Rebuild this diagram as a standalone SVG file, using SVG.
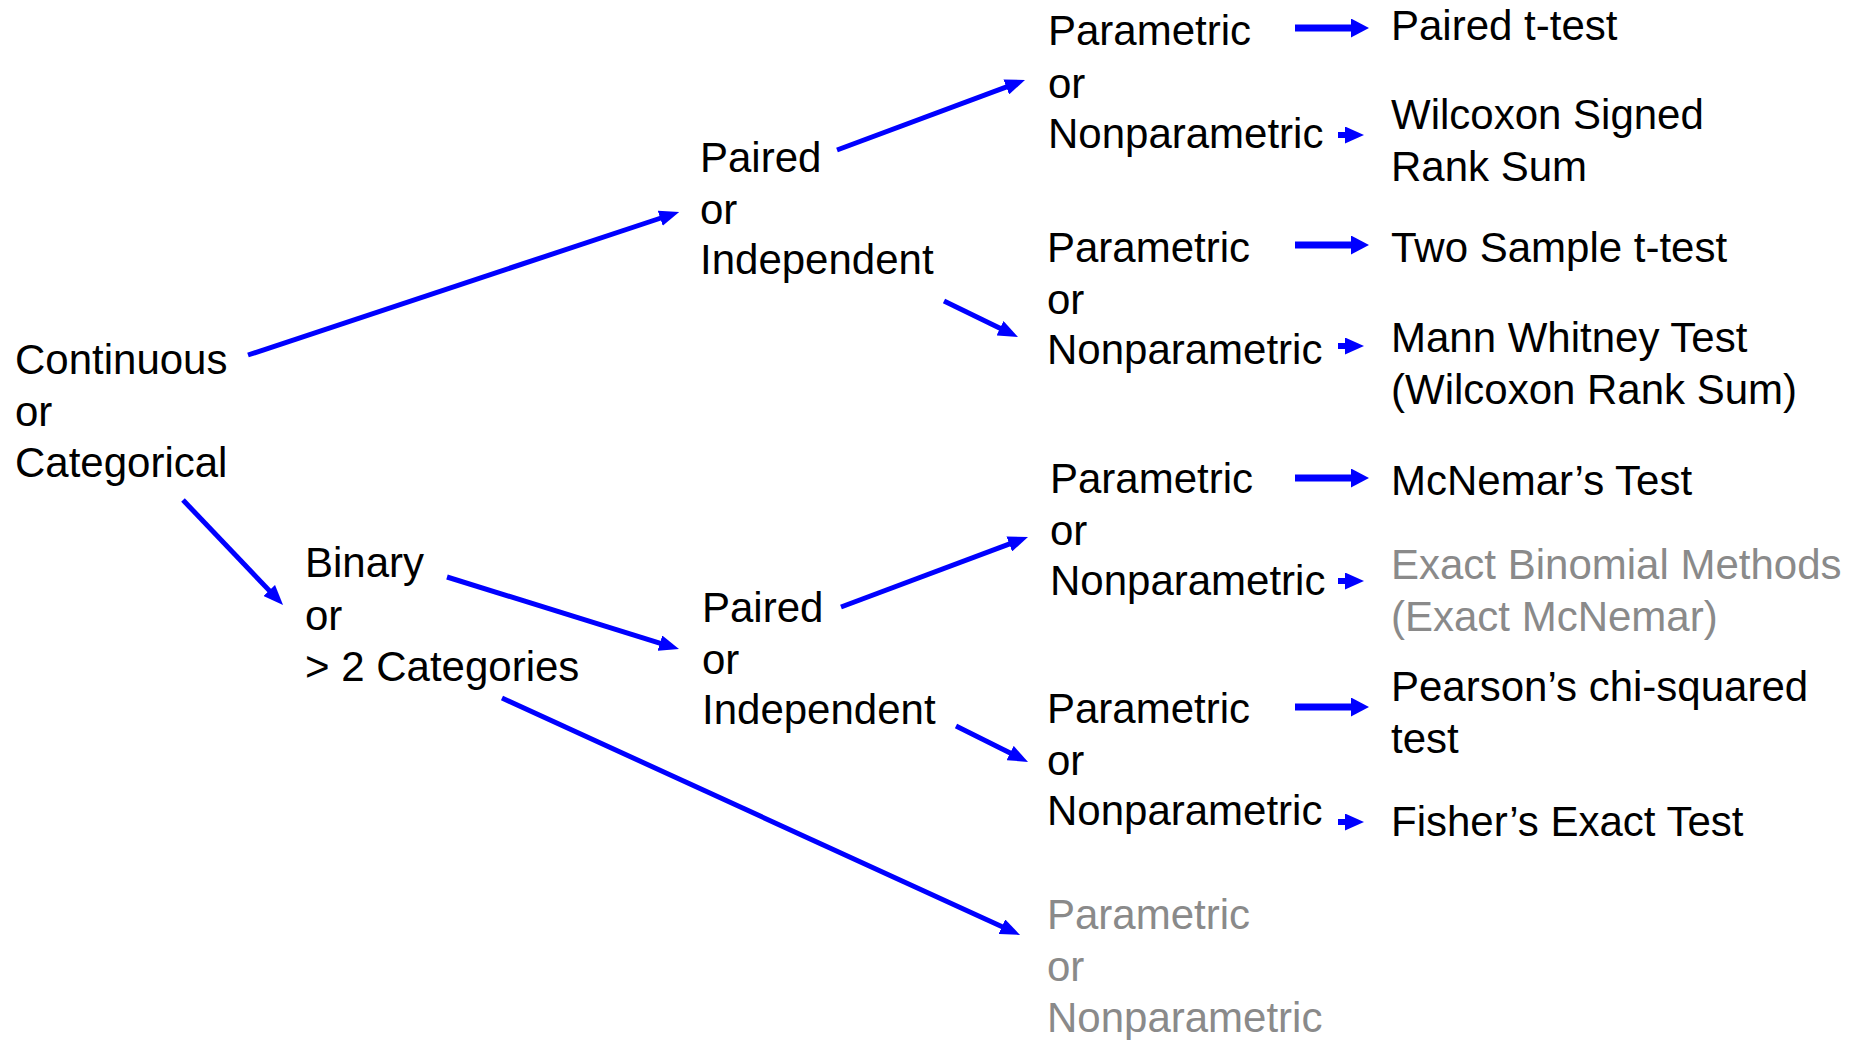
<svg xmlns="http://www.w3.org/2000/svg" width="1867" height="1040" viewBox="0 0 1867 1040">
<style>
text{font-family:"Liberation Sans",Arial,sans-serif;font-size:42px;fill:#000}
.g text,text.g{fill:#8a8a8a}
.c{stroke:#0000ff;stroke-width:5;fill:none}
.p{stroke:#0000ff;stroke-width:7;fill:none}
.s{stroke:#0000ff;stroke-width:6;fill:none}
</style>
<defs>
<marker id="a" markerUnits="userSpaceOnUse" markerWidth="20" markerHeight="16" refX="4" refY="8" orient="auto"><path d="M0,0 L20,8 L0,16 z" fill="#0000ff"/></marker>
<marker id="ap" markerUnits="userSpaceOnUse" markerWidth="18" markerHeight="19" refX="4" refY="9.5" orient="auto"><path d="M0,0 L18,9.5 L0,19 z" fill="#0000ff"/></marker>
<marker id="as" markerUnits="userSpaceOnUse" markerWidth="19" markerHeight="17" refX="4" refY="8.5" orient="auto"><path d="M0,0 L19,8.5 L0,17 z" fill="#0000ff"/></marker>
</defs>
<g id="connectors">
<line class="c" x1="248" y1="355" x2="664" y2="217" marker-end="url(#a)"/>
<line class="c" x1="837" y1="150" x2="1010" y2="85.6" marker-end="url(#a)"/>
<line class="c" x1="944" y1="301" x2="1003.6" y2="330" marker-end="url(#a)"/>
<line class="c" x1="183" y1="500" x2="272" y2="593.4" marker-end="url(#a)"/>
<line class="c" x1="447" y1="577" x2="663.7" y2="644.3" marker-end="url(#a)"/>
<line class="c" x1="841" y1="607" x2="1013" y2="542.6" marker-end="url(#a)"/>
<line class="c" x1="956" y1="726" x2="1013.7" y2="754.8" marker-end="url(#a)"/>
<line class="c" x1="502" y1="698" x2="1005.5" y2="928.3" marker-end="url(#a)"/>
<line class="p" x1="1295" y1="28" x2="1355" y2="28" marker-end="url(#ap)"/>
<line class="p" x1="1295" y1="245" x2="1355" y2="245" marker-end="url(#ap)"/>
<line class="p" x1="1295" y1="478" x2="1355" y2="478" marker-end="url(#ap)"/>
<line class="p" x1="1295" y1="707" x2="1355" y2="707" marker-end="url(#ap)"/>
<line class="s" x1="1338" y1="135" x2="1349" y2="135" marker-end="url(#as)"/>
<line class="s" x1="1338" y1="346" x2="1349" y2="346" marker-end="url(#as)"/>
<line class="s" x1="1338" y1="581" x2="1349" y2="581" marker-end="url(#as)"/>
<line class="s" x1="1338" y1="822" x2="1349" y2="822" marker-end="url(#as)"/>
</g>
<g id="n-continuous"><text x="15" y="374">Continuous</text><text x="15" y="426">or</text><text x="15" y="477">Categorical</text></g>
<g id="n-paired1"><text x="700" y="172">Paired</text><text x="700" y="224">or</text><text x="700" y="274">Independent</text></g>
<g id="n-binary"><text x="305" y="577">Binary</text><text x="305" y="630">or</text><text x="305" y="681">&gt; 2 Categories</text></g>
<g id="n-paired2"><text x="702" y="622">Paired</text><text x="702" y="674">or</text><text x="702" y="724">Independent</text></g>
<g id="n-param1"><text x="1048" y="45">Parametric</text><text x="1048" y="98">or</text><text x="1048" y="148">Nonparametric</text></g>
<g id="n-param2"><text x="1047" y="262">Parametric</text><text x="1047" y="314">or</text><text x="1047" y="364">Nonparametric</text></g>
<g id="n-param3"><text x="1050" y="493">Parametric</text><text x="1050" y="545">or</text><text x="1050" y="595">Nonparametric</text></g>
<g id="n-param4"><text x="1047" y="723">Parametric</text><text x="1047" y="775">or</text><text x="1047" y="825">Nonparametric</text></g>
<g id="n-param5" class="g"><text x="1047" y="929">Parametric</text><text x="1047" y="981">or</text><text x="1047" y="1032">Nonparametric</text></g>
<g id="n-pairedt"><text x="1391" y="40">Paired t-test</text></g>
<g id="n-wilcoxon"><text x="1391" y="129">Wilcoxon Signed</text><text x="1391" y="181">Rank Sum</text></g>
<g id="n-twosample"><text x="1391" y="262">Two Sample t-test</text></g>
<g id="n-mann"><text x="1391" y="352">Mann Whitney Test</text><text x="1391" y="404">(Wilcoxon Rank Sum)</text></g>
<g id="n-mcnemar"><text x="1391" y="495">McNemar’s Test</text></g>
<g id="n-exact" class="g"><text x="1391" y="579">Exact Binomial Methods</text><text x="1391" y="631">(Exact McNemar)</text></g>
<g id="n-pearson"><text x="1391" y="701">Pearson’s chi-squared</text><text x="1391" y="753">test</text></g>
<g id="n-fisher"><text x="1391" y="836">Fisher’s Exact Test</text></g>
</svg>
